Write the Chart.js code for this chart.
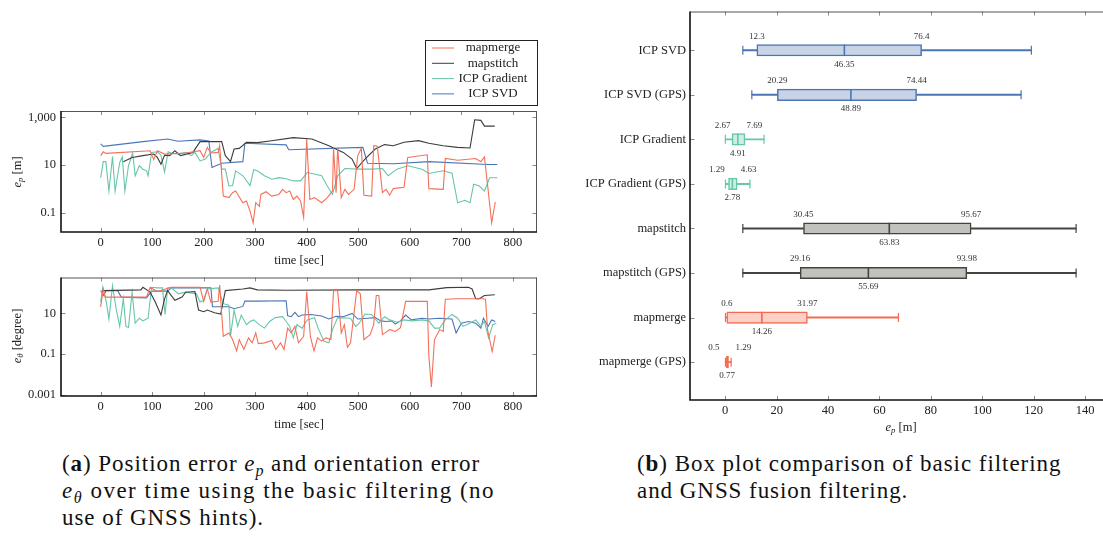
<!DOCTYPE html>
<html lang="en">
<head>
<meta charset="UTF-8" />
<title>Position / orientation error and box plot</title>
<script src="https://cdn.jsdelivr.net/npm/chart.js"></script>
<style>
  html, body { margin: 0; padding: 0; background: #fff; }
  body { width: 1103px; height: 542px; overflow: hidden; position: relative; font-family: 'Liberation Serif', serif; color: #222; }
  canvas { position: absolute; }
  .ytitle { position: absolute; font-size: 12.5px; white-space: nowrap; transform: translate(-50%, -50%) rotate(-90deg); }
  .xtitle { position: absolute; font-size: 12.5px; white-space: nowrap; transform: translate(-50%, -50%); }
  .cap { position: absolute; font-size: 23px; line-height: 27px; color: #111; letter-spacing: 0.95px; white-space: nowrap; }
  .cap .wide { letter-spacing: 1.5px; }
  sub { font-size: 70%; vertical-align: -0.3em; line-height: 0; }
</style>
</head>
<body>
<canvas id="posChart" width="560" height="240" style="left:0;top:30px"></canvas>
<canvas id="oriChart" width="560" height="169" style="left:0;top:265px"></canvas>
<canvas id="boxChart" width="540" height="438" style="left:580px;top:0"></canvas>

<div class="ytitle" style="left:17px;top:172px"><i>e<sub>p</sub></i> [m]</div>
<div class="ytitle" style="left:17px;top:336px"><i>e<sub>θ</sub></i> [degree]</div>
<div class="xtitle" style="left:901px;top:427px"><i>e<sub>p</sub></i> [m]</div>

<div class="cap" style="left:62px;top:450px">(<b>a</b>) Position error <i>e<sub>p</sub></i> and orientation error<br><span class="wide"><i>e<sub>θ</sub></i> over time using the basic filtering (no</span><br>use of GNSS hints).</div>
<div class="cap" style="left:637px;top:450px">(<b>b</b>) Box plot comparison of basic filtering<br>and GNSS fusion filtering.</div>

<script>
// ---- time series, position error e_p [m] ----
const timePosMerge = [0, 5, 10, 96, 103, 110, 124, 165, 193, 200, 207, 214, 228, 231, 238, 249, 256, 262, 276, 283, 290, 296, 301, 308, 311, 321, 332, 346, 353, 360, 367, 374, 381, 388, 394, 400, 406, 415, 429, 440, 450, 452, 457, 460, 467, 474, 481, 492, 499, 506, 511, 526, 530, 537, 547, 554, 561, 568, 589, 596, 634, 637, 665, 669, 693, 728, 738, 745, 752, 759, 766];
const errPosMerge = [25, 36, 31, 40, 17, 40, 29, 32, 40, 21, 55, 32, 34, 65, 0.51, 0.44, 0.71, 0.83, 0.27, 0.32, 0.12, 0.039, 0.27, 0.19, 0.6, 0.78, 0.51, 0.6, 0.98, 0.71, 0.83, 0.37, 0.51, 0.32, 0.066, 124, 0.37, 0.44, 0.27, 0.44, 0.83, 55, 0.71, 55, 0.44, 0.98, 0.6, 0.98, 25, 50, 0.55, 0.51, 65, 61, 0.71, 0.98, 0.56, 1.05, 1.2, 21, 27, 1.05, 0.98, 19, 16, 19, 14, 22, 0.98, 0.039, 0.29];

const timePosStitch = [44, 61, 82, 103, 110, 117, 124, 134, 144, 155, 179, 193, 235, 242, 252, 259, 269, 283, 304, 332, 374, 410, 443, 471, 488, 497, 513, 533, 551, 568, 589, 617, 637, 665, 693, 717, 726, 738, 745, 765];
const errPosStitch = [14, 21, 25, 29, 21, 11, 26, 25, 40, 25, 34, 96, 96, 25, 14, 47, 50, 90, 87, 105, 141, 124, 65, 34, 18, 7.2, 18, 47, 72, 65, 90, 105, 82, 65, 55, 52, 780, 740, 425, 425];

const timePosGrad = [0, 5, 10, 16, 23, 28, 37, 42, 47, 54, 62, 67, 75, 82, 89, 92, 99, 110, 117, 124, 131, 137, 151, 165, 176, 183, 193, 203, 214, 228, 235, 242, 249, 256, 262, 276, 290, 297, 304, 318, 332, 346, 360, 374, 388, 401, 429, 440, 450, 460, 474, 499, 526, 547, 558, 575, 596, 624, 637, 665, 682, 693, 707, 717, 724, 735, 745, 755, 770];
const errPosGrad = [3.0, 14, 14, 0.83, 23, 0.83, 13, 22, 0.83, 9.4, 32, 3.6, 9.4, 6.8, 5.8, 3.6, 34, 36, 26, 5.2, 36, 32, 29, 34, 25, 34, 15, 18, 34, 50, 6.8, 6.8, 1.35, 1.4, 5.8, 3.6, 1.4, 6.4, 5.8, 3.6, 2.6, 3.0, 2.7, 2.2, 2.2, 4.9, 3.6, 1.35, 0.6, 3.6, 7.2, 6.8, 6.8, 7.2, 3.6, 6.8, 9.4, 6.8, 4.5, 5.8, 4.6, 0.27, 0.34, 0.27, 1.6, 1.35, 0.83, 3.0, 3.0];

const timePosSvd = [0, 5, 82, 130, 150, 193, 210, 216, 235, 276, 280, 360, 365, 509, 518, 568, 637, 752, 770];
const errPosSvd = [77, 61, 96, 124, 99, 113, 103, 8, 12, 14, 82, 70, 44, 55, 12, 11.4, 14, 10.7, 10.7];

// ---- time series, orientation error e_theta [degree] ----
const timeOriMerge = [0, 5, 9, 40, 89, 96, 110, 137, 193, 200, 207, 214, 228, 231, 238, 249, 256, 264, 269, 278, 287, 294, 301, 306, 318, 332, 340, 349, 356, 363, 370, 377, 384, 394, 400, 407, 414, 421, 429, 437, 447, 452, 460, 467, 473, 479, 485, 497, 504, 511, 523, 530, 535, 540, 547, 561, 572, 582, 592, 634, 637, 642, 648, 658, 665, 669, 693, 742, 747, 751, 760, 766];
const errOriMerge = [21, 158, 63, 63, 63, 190, 118, 190, 190, 39, 158, 36, 39, 245, 0.76, 1.1, 0.52, 0.145, 0.52, 0.17, 0.63, 0.36, 1.1, 0.33, 0.36, 0.47, 0.17, 0.36, 0.17, 1.9, 1.1, 2.3, 0.36, 0.76, 118, 0.76, 0.145, 0.63, 0.44, 0.63, 0.52, 131, 131, 1.1, 2.8, 0.22, 0.36, 131, 91, 0.52, 0.91, 2.8, 76, 76, 0.91, 1.6, 1.3, 2.0, 39, 39, 0.083, 0.0025, 0.52, 1.6, 1.3, 49, 52, 52, 49, 1.6, 0.135, 0.85];

const timeOriStitch = [3, 78, 82, 96, 106, 117, 124, 130, 144, 158, 165, 183, 190, 200, 207, 221, 233, 242, 276, 290, 304, 360, 499, 637, 672, 714, 721, 728, 735, 745, 765];
const errOriStitch = [131, 142, 190, 110, 36, 8.3, 52, 131, 44, 63, 110, 118, 14.5, 12, 14.5, 10.8, 9.3, 131, 158, 178, 142, 137, 142, 142, 183, 190, 158, 52, 52, 76, 82];

const timeOriGrad = [0, 4, 11, 16, 23, 30, 37, 44, 49, 54, 61, 67, 75, 82, 92, 99, 110, 120, 125, 130, 137, 151, 165, 186, 193, 200, 207, 228, 238, 249, 252, 259, 266, 273, 283, 290, 297, 308, 318, 328, 339, 353, 360, 367, 374, 381, 391, 401, 415, 422, 433, 443, 450, 460, 485, 495, 502, 513, 526, 540, 551, 561, 575, 589, 603, 624, 637, 648, 658, 669, 682, 693, 703, 714, 728, 738, 745, 753, 761, 768];
const errOriGrad = [36, 190, 36, 5.3, 230, 17, 2.3, 52, 2.3, 2.05, 110, 3.3, 5.8, 4.3, 5.8, 190, 178, 178, 8.9, 178, 178, 91, 110, 91, 36, 44, 158, 178, 30, 25, 0.76, 14.5, 2.3, 8.3, 2.8, 4.0, 4.8, 2.8, 1.9, 4.0, 6.2, 6.9, 4.0, 2.3, 0.63, 2.8, 1.9, 4.8, 6.2, 1.9, 0.44, 0.36, 1.6, 6.2, 5.8, 2.3, 3.3, 9.3, 8.9, 3.3, 6.9, 4.8, 3.7, 4.8, 4.3, 4.8, 4.3, 1.9, 1.9, 4.8, 8.9, 5.8, 2.3, 3.0, 4.8, 2.3, 4.0, 0.63, 2.8, 3.3];

const timeOriSvd = [0, 5, 11, 33, 40, 89, 99, 130, 137, 214, 217, 249, 259, 276, 280, 304, 360, 363, 370, 377, 384, 391, 408, 429, 443, 457, 471, 488, 499, 519, 533, 544, 554, 565, 572, 582, 592, 603, 624, 637, 658, 682, 690, 700, 714, 728, 738, 743, 752, 759, 766];
const errOriSvd = [131, 76, 131, 131, 63, 58, 123, 123, 178, 178, 21, 21, 17, 22, 40, 40, 42, 7.7, 6.9, 11.2, 6.9, 8.3, 8.9, 7.4, 5.3, 7.2, 6.9, 10, 5.3, 5.8, 6.2, 4.3, 4.0, 4.3, 3.0, 4.3, 8.3, 4.8, 5.8, 5.3, 5.8, 5.3, 1.1, 3.3, 4.0, 3.3, 1.9, 5.8, 2.3, 4.8, 4.0];

const timeTicks = [0, 100, 200, 300, 400, 500, 600, 700, 800];
const posTicks = [0.1, 10, 1000];
const oriTicks = [0.001, 0.1, 10];

// ---- box plot (e_p [m]) ----
const boxLabels = ['ICP SVD', 'ICP SVD (GPS)', 'ICP Gradient', 'ICP Gradient (GPS)', 'mapstitch', 'mapstitch (GPS)', 'mapmerge', 'mapmerge (GPS)'];
const whiskerLow = [6.85, 10.35, 0.05, 0.1, 6.85, 6.85, 0.1, 0.1];
const q1 = [12.3, 20.29, 2.67, 1.29, 30.45, 29.16, 0.6, 0.5];
const median = [46.35, 48.89, 4.91, 2.78, 63.83, 55.69, 14.26, 0.77];
const q3 = [76.4, 74.44, 7.69, 4.63, 95.67, 93.98, 31.97, 1.29];
const whiskerHigh = [119.1, 115.1, 15.1, 9.6, 136.5, 136.5, 67.4, 2.3];
const boxTicks = [0, 20, 40, 60, 80, 100, 120, 140];

const RED = '#f4705a', BLACK = '#3c3c3c', TEAL = '#66c6aa', BLUE = '#4a76b6';
const boxStroke = [BLUE, BLUE, TEAL, TEAL, '#44443f', '#44443f', '#f26a50', '#f26a50'];
const boxFill = ['#c8d4e6', '#c8d4e6', '#cdeee4', '#cdeee4', '#c1c2bd', '#c1c2bd', '#fdd0c7', '#fdd0c7'];

Chart.defaults.font.family = "'Liberation Serif', serif";
Chart.defaults.font.size = 12.5;
Chart.defaults.color = '#222';

// inward tick marks + plot frame (pgfplots look)
const frameTicks = {
  id: 'frameTicks',
  afterDatasetsDraw(chart) {
    const { ctx, chartArea: a, scales: { x, y } } = chart;
    ctx.save();
    ctx.strokeStyle = '#8a8a8a';
    ctx.lineWidth = 1;
    ctx.beginPath();
    x.ticks.forEach(t => {
      const px = Math.round(x.getPixelForValue(t.value)) + 0.5;
      ctx.moveTo(px, a.bottom); ctx.lineTo(px, a.bottom - 4);
      ctx.moveTo(px, a.top); ctx.lineTo(px, a.top + 4);
    });
    y.ticks.forEach(t => {
      const py = Math.round(y.getPixelForValue(t.value)) + 0.5;
      ctx.moveTo(a.left, py); ctx.lineTo(a.left + 4.5, py);
      ctx.moveTo(a.right, py); ctx.lineTo(a.right - 4.5, py);
    });
    ctx.stroke();
    ctx.strokeStyle = '#555';
    ctx.beginPath();
    ctx.moveTo(a.left, a.top + 0.5); ctx.lineTo(a.right, a.top + 0.5);
    ctx.moveTo(a.right - 0.5, a.top); ctx.lineTo(a.right - 0.5, a.bottom);
    ctx.stroke();
    ctx.strokeStyle = '#111';
    ctx.lineWidth = 1.6;
    ctx.beginPath();
    ctx.moveTo(a.left, a.top); ctx.lineTo(a.left, a.bottom);
    ctx.lineTo(a.right, a.bottom);
    ctx.stroke();
    ctx.restore();
  }
};

// boxed legend in the top right above the first plot
const boxLegend = {
  id: 'boxLegend',
  afterDraw(chart, args, opts) {
    if (!opts.show) return;
    const { ctx } = chart;
    const { left, top, width, height, rowGap } = opts;
    ctx.save();
    ctx.fillStyle = '#fff';
    ctx.fillRect(left, top, width, height);
    ctx.strokeStyle = '#222';
    ctx.lineWidth = 1;
    ctx.strokeRect(left + 0.5, top + 0.5, width, height);
    ctx.font = "13px 'Liberation Serif', serif";
    ctx.textAlign = 'center';
    ctx.textBaseline = 'middle';
    chart.data.datasets.forEach((ds, i) => {
      const cy = top + 8 + i * rowGap;
      ctx.strokeStyle = ds.borderColor;
      ctx.lineWidth = 1;
      ctx.beginPath();
      ctx.moveTo(left + 7, cy); ctx.lineTo(left + 29, cy);
      ctx.stroke();
      ctx.fillStyle = '#222';
      ctx.fillText(ds.label, left + 68, cy);
    });
    ctx.restore();
  }
};

function series(label, color, t, v) {
  return {
    label,
    data: t.map((x, i) => ({ x, y: v[i] })),
    borderColor: color,
    borderWidth: 1.1,
    pointRadius: 0,
    tension: 0,
    fill: false
  };
}

function fixedTicks(list) {
  return scale => { scale.ticks = list.map(v => ({ value: v })); };
}

function timeChart(id, datasets, yTicks, yMin, yMax, padTop, legend) {
  return new Chart(document.getElementById(id), {
    type: 'line',
    data: { datasets },
    options: {
      responsive: false,
      animation: false,
      devicePixelRatio: 1,
      layout: { padding: { top: padTop, right: 23, left: 0, bottom: 0 } },
      scales: {
        x: {
          type: 'linear', min: -77, max: 847,
          afterBuildTicks: fixedTicks(timeTicks),
          afterFit: s => { s.height = 38; },
          grid: { display: false, drawTicks: false },
          border: { display: false },
          ticks: { padding: 3, maxRotation: 0 },
          title: { display: true, text: 'time [sec]', padding: { top: 0, bottom: 2 } }
        },
        y: {
          type: 'logarithmic', min: yMin, max: yMax,
          afterBuildTicks: fixedTicks(yTicks),
          afterFit: s => { s.width = 61; },
          grid: { display: false, drawTicks: false },
          border: { display: false },
          ticks: { padding: 5, callback: v => Number(v).toLocaleString('en-US') }
        }
      },
      plugins: {
        legend: { display: false },
        tooltip: { enabled: false },
        boxLegend: legend
      }
    },
    plugins: [frameTicks, boxLegend]
  });
}

timeChart('posChart', [
  series('mapmerge', RED, timePosMerge, errPosMerge),
  series('mapstitch', BLACK, timePosStitch, errPosStitch),
  series('ICP Gradient', TEAL, timePosGrad, errPosGrad),
  series('ICP SVD', BLUE, timePosSvd, errPosSvd)
], posTicks, Math.pow(10, -1.79), Math.pow(10, 3.26), 81,
  { show: true, left: 425, top: 10, width: 112, height: 65, rowGap: 15.3 });

timeChart('oriChart', [
  series('mapmerge', RED, timeOriMerge, errOriMerge),
  series('mapstitch', BLACK, timeOriStitch, errOriStitch),
  series('ICP Gradient', TEAL, timeOriGrad, errOriGrad),
  series('ICP SVD', BLUE, timeOriSvd, errOriSvd)
], oriTicks, Math.pow(10, -3.05), Math.pow(10, 2.76), 10, { show: false });

// q1 / q3 labels above each box, median below
const boxValueLabels = {
  id: 'boxValueLabels',
  afterDatasetsDraw(chart) {
    const { ctx, scales: { x, y } } = chart;
    ctx.save();
    ctx.font = "9px 'Liberation Serif', serif";
    ctx.fillStyle = '#333';
    ctx.textBaseline = 'middle';
    boxLabels.forEach((_, i) => {
      const cy = y.getPixelForValue(i);
      const a = x.getPixelForValue(q1[i]);
      const b = x.getPixelForValue(q3[i]);
      if (b - a < 34) {
        const mid = (a + b) / 2;
        ctx.textAlign = 'right';
        ctx.fillText(String(q1[i]), mid - 8, cy - 14);
        ctx.textAlign = 'left';
        ctx.fillText(String(q3[i]), mid + 8, cy - 14);
      } else {
        ctx.textAlign = 'center';
        ctx.fillText(String(q1[i]), a, cy - 14);
        ctx.fillText(String(q3[i]), b, cy - 14);
      }
      ctx.textAlign = 'center';
      ctx.fillText(String(median[i]), x.getPixelForValue(median[i]), cy + 14);
    });
    ctx.restore();
  }
};

new Chart(document.getElementById('boxChart'), {
  type: 'bar',
  data: {
    datasets: [
      {
        type: 'scatter', order: 0,
        data: boxLabels.map((_, i) => ({ x: median[i], y: i })),
        pointStyle: 'line', pointRotation: 90, pointRadius: 5.8,
        pointBorderWidth: 1.6, pointBorderColor: boxStroke
      },
      {
        type: 'scatter', order: 1,
        data: boxLabels.map((_, i) => ({ x: whiskerLow[i], y: i }))
          .concat(boxLabels.map((_, i) => ({ x: whiskerHigh[i], y: i }))),
        pointStyle: 'line', pointRotation: 90, pointRadius: 4.5,
        pointBorderWidth: 1.2, pointBorderColor: boxStroke.concat(boxStroke)
      },
      {
        indexAxis: 'y', grouped: false, order: 2,
        data: boxLabels.map((_, i) => ({ x: [q1[i], q3[i]], y: i })),
        backgroundColor: boxFill, borderColor: boxStroke,
        borderWidth: 1.5, borderSkipped: false, barThickness: 11.5
      },
      {
        indexAxis: 'y', grouped: false, order: 3,
        data: boxLabels.map((_, i) => ({ x: [whiskerLow[i], q1[i]], y: i }))
          .concat(boxLabels.map((_, i) => ({ x: [q3[i], whiskerHigh[i]], y: i }))),
        backgroundColor: boxStroke.concat(boxStroke),
        borderWidth: 0, barThickness: 1.3
      }
    ]
  },
  options: {
    responsive: false,
    animation: false,
    devicePixelRatio: 1,
    layout: { padding: { top: 9, right: 6.4, left: 0, bottom: 0 } },
    scales: {
      x: {
        type: 'linear', min: -13.7, max: 150.7, offset: false,
        afterBuildTicks: fixedTicks(boxTicks),
        afterFit: s => { s.height = 38; },
        grid: { display: false, drawTicks: false },
        border: { display: false },
        ticks: { padding: 3, maxRotation: 0 }
      },
      y: {
        type: 'linear', min: -0.87, max: 7.85, reverse: true, offset: false,
        afterBuildTicks: fixedTicks(boxLabels.map((_, i) => i)),
        afterFit: s => { s.width = 110; },
        grid: { display: false, drawTicks: false },
        border: { display: false },
        ticks: { padding: 4, callback: v => boxLabels[v] }
      }
    },
    plugins: { legend: { display: false }, tooltip: { enabled: false } }
  },
  plugins: [frameTicks, boxValueLabels]
});
</script>
</body>
</html>
